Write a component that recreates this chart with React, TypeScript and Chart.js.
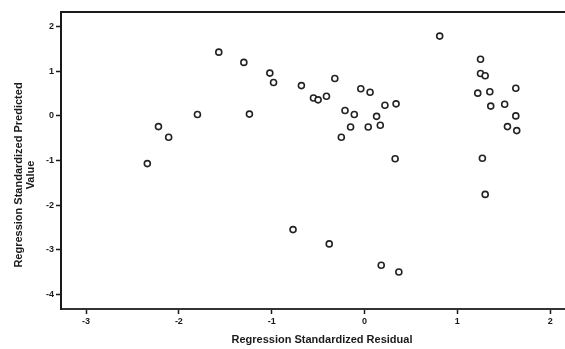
import React, { useEffect, useRef } from "react";
import { Chart, registerables } from "chart.js";

Chart.register(...registerables);

const residuals = [
  0.81, -0.68, -0.32, -0.55, -0.5, -0.41, -0.04, 0.06, 0.22, 0.34, -0.21, -0.11, 0.13, 0.17, -0.15, 0.04,
  -0.25, 0.33, 1.25, 1.25, 1.3, 1.22, 1.35, 1.63, 1.36, 1.51, 1.63, 1.54, 1.64, 1.27, 1.3,
  -1.57, -1.3, -1.02, -0.98, -1.8, -1.24, -2.22, -2.11, -2.34,
  -0.77, -0.38, 0.18, 0.37,
];
const predicted = [
  1.79, 0.68, 0.84, 0.4, 0.36, 0.44, 0.61, 0.53, 0.24, 0.27, 0.12, 0.03, -0.01, -0.21, -0.25, -0.25,
  -0.48, -0.96, 1.27, 0.95, 0.9, 0.51, 0.54, 0.62, 0.22, 0.26, 0.0, -0.24, -0.33, -0.95, -1.76,
  1.43, 1.2, 0.96, 0.75, 0.03, 0.04, -0.24, -0.48, -1.07,
  -2.55, -2.87, -3.35, -3.5,
];
const xTicks = [-3, -2, -1, 0, 1, 2];
const yTicks = [-4, -3, -2, -1, 0, 1, 2];
const xTitle = "Regression Standardized Residual";
const yTitle = ["Regression Standardized Predicted", "Value"];

const FONT = "'Liberation Sans', Arial, sans-serif";
const INK = "#1a1a1a";

export default function App() {
  const ref = useRef<HTMLCanvasElement>(null);
  useEffect(() => {
    document.body.style.margin = "0";
    const canvas = ref.current!;
    const framePlugin = {
      id: "frame",
      afterDraw(chart: any) {
        const { ctx, chartArea: a } = chart;
        ctx.save();
        ctx.strokeStyle = INK;
        ctx.lineWidth = 2;
        ctx.beginPath();
        ctx.moveTo(a.left, a.top);
        ctx.lineTo(a.right, a.top);
        ctx.stroke();
        ctx.fillStyle = INK;
        ctx.font = `bold 11px ${FONT}`;
        ctx.textAlign = "center";
        ctx.textBaseline = "middle";
        ctx.fillText(xTitle, 322, 340);
        ctx.save();
        ctx.translate(19, 175);
        ctx.rotate(-Math.PI / 2);
        ctx.fillText(yTitle[0], 0, 0);
        ctx.restore();
        ctx.save();
        ctx.translate(31, 175);
        ctx.rotate(-Math.PI / 2);
        ctx.fillText(yTitle[1], 0, 0);
        ctx.restore();
        ctx.restore();
      },
    };
    const chart = new Chart(canvas, {
      type: "scatter",
      data: {
        datasets: [
          {
            data: residuals.map((x, i) => ({ x, y: predicted[i] })),
            pointStyle: "circle",
            pointRadius: 3,
            pointBorderWidth: 1.6,
            pointBorderColor: "#222",
            pointBackgroundColor: "#fff",
          },
        ],
      },
      options: {
        animation: false,
        responsive: false,
        maintainAspectRatio: false,
        layout: { autoPadding: false, padding: { top: 12, right: 0, left: 0, bottom: 0 } },
        plugins: { legend: { display: false }, tooltip: { enabled: false } },
        scales: {
          x: {
            type: "linear",
            min: -3.27,
            max: 2.16,
            afterBuildTicks: (s: any) => {
              s.ticks = xTicks.map((v) => ({ value: v }));
            },
            afterFit: (s: any) => {
              s.height = 40;
            },
            grid: { display: true, drawOnChartArea: false, drawTicks: true, tickLength: 5, color: INK, tickColor: INK, tickWidth: 1.5 },
            border: { display: true, color: "#333", width: 2 },
            ticks: { color: INK, font: { family: FONT, size: 9, weight: "bold" }, padding: 2, maxRotation: 0 },
          },
          y: {
            type: "linear",
            min: -4.33,
            max: 2.33,
            afterBuildTicks: (s: any) => {
              s.ticks = yTicks.map((v) => ({ value: v }));
            },
            afterFit: (s: any) => {
              s.width = 61;
            },
            grid: { display: true, drawOnChartArea: false, drawTicks: true, tickLength: 5, color: INK, tickColor: INK, tickWidth: 1.5 },
            border: { display: true, color: INK, width: 2 },
            ticks: { color: INK, font: { family: FONT, size: 9, weight: "bold" }, padding: 2 },
          },
        },
      },
      plugins: [framePlugin],
    });
    return () => chart.destroy();
  }, []);
  return <canvas ref={ref} width={565} height={349} style={{ display: "block", width: 565, height: 349 }} />;
}
